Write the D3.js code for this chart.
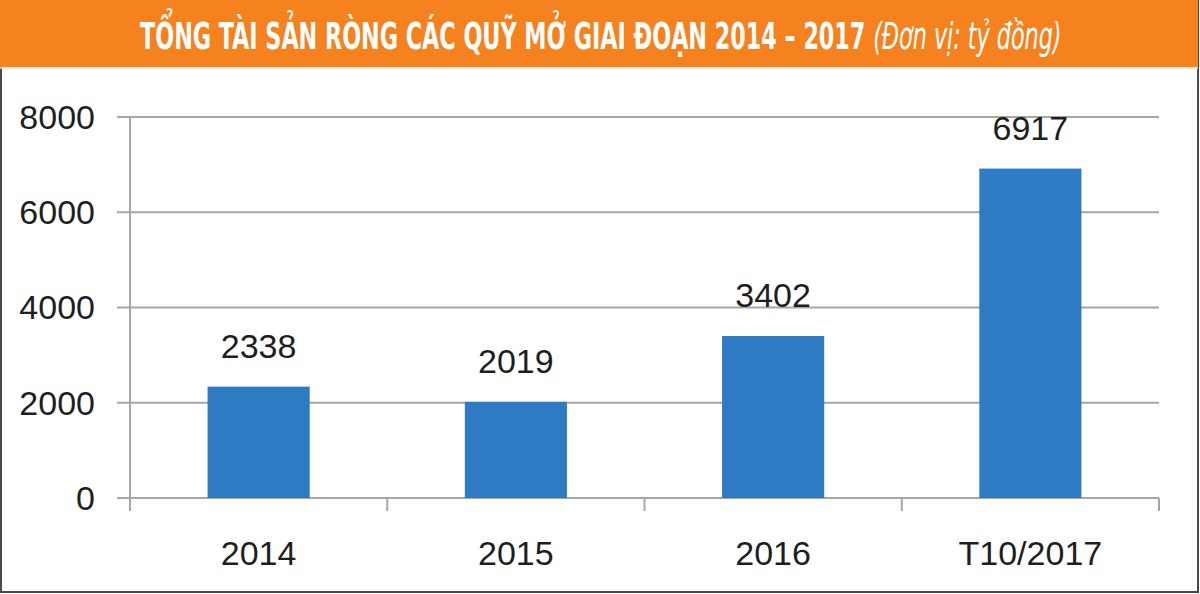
<!DOCTYPE html>
<html><head><meta charset="utf-8">
<script src="https://cdn.jsdelivr.net/npm/d3@7"></script>
<style>html,body{margin:0;padding:0;background:#fff;}svg{display:block;}</style>
</head><body>
<svg id="c" width="1200" height="594"></svg>
<script>
const categories = ["2014", "2015", "2016", "T10/2017"];
const values = [2338, 2019, 3402, 6917];
const yTicks = [0, 2000, 4000, 6000, 8000];
const titleMain = "TỔNG TÀI SẢN RÒNG CÁC QUỸ MỞ GIAI ĐOẠN 2014 – 2017 ";
const titleUnit = "(Đơn vị: tỷ đồng)";

const svg = d3.select("#c");
const W = 1200, H = 594;

// frame
svg.append("rect").attr("x", 0).attr("y", 0).attr("width", W).attr("height", H).attr("fill", "#fff");
svg.append("rect").attr("x", 1).attr("y", 1).attr("width", W - 3).attr("height", H - 3)
  .attr("fill", "none").attr("stroke", "#4a4a4a").attr("stroke-width", 2);
// header band
svg.append("rect").attr("x", 0).attr("y", 0).attr("width", W - 2).attr("height", 67).attr("fill", "#f5821f");
svg.append("line").attr("x1", 0).attr("x2", W - 2).attr("y1", 68).attr("y2", 68).attr("stroke", "#fbe3cc").attr("stroke-width", 1.5);

const title = svg.append("text").attr("x", 0).attr("y", 49)
  .attr("font-family", "'Liberation Sans Narrow','DejaVu Sans Condensed','Roboto Condensed',sans-serif")
  .attr("font-size", 37).attr("fill", "#fff");
title.append("tspan").attr("font-weight", "bold").text(titleMain);
title.append("tspan").attr("font-style", "italic").text(titleUnit);
const tw = title.node().getComputedTextLength();
const targetW = 922, x0 = 140;
title.attr("transform", `translate(${x0},0) scale(${targetW / tw},1)`);

// chart scales
const xb = d3.scaleBand().domain(categories).range([130, 1159]);
const y = d3.scaleLinear().domain([0, 8000]).range([498, 117]);
const grid = "#a6a6a6";

// gridlines
svg.append("g").selectAll("line").data(yTicks).join("line")
  .attr("x1", 117).attr("x2", 1159).attr("y1", d => y(d)).attr("y2", d => y(d))
  .attr("stroke", grid).attr("stroke-width", 2);

// y axis line
svg.append("line").attr("x1", 130).attr("x2", 130).attr("y1", y(8000)).attr("y2", 511)
  .attr("stroke", grid).attr("stroke-width", 2);

// x ticks at band boundaries
const boundaryPts = [xb.range()[0]].concat(categories.map(c => xb(c) + xb.bandwidth()));
svg.append("g").selectAll("line").data(boundaryPts).join("line")
  .attr("x1", d => d).attr("x2", d => d).attr("y1", y(0)).attr("y2", 511)
  .attr("stroke", grid).attr("stroke-width", 2);

// bars
const barW = xb.bandwidth() * 0.397;
svg.append("g").selectAll("rect").data(values).join("rect")
  .attr("x", (d, i) => xb(categories[i]) + xb.bandwidth() / 2 - barW / 2)
  .attr("width", barW)
  .attr("y", d => y(d)).attr("height", d => y(0) - y(d))
  .attr("fill", "#2e7bc4");

const font = "'Liberation Sans',Arial,sans-serif";
// value labels
svg.append("g").selectAll("text").data(values).join("text")
  .attr("x", (d, i) => xb(categories[i]) + xb.bandwidth() / 2)
  .attr("y", d => y(d) - 29)
  .attr("text-anchor", "middle").attr("font-family", font).attr("font-size", 34).attr("fill", "#1e1e1e")
  .text(d => d);

// y tick labels
svg.append("g").selectAll("text").data(yTicks).join("text")
  .attr("x", 95).attr("y", d => y(d)).attr("dy", "0.35em")
  .attr("text-anchor", "end").attr("font-family", font).attr("font-size", 34).attr("fill", "#1e1e1e")
  .text(d => d);

// x labels
svg.append("g").selectAll("text").data(categories).join("text")
  .attr("x", d => xb(d) + xb.bandwidth() / 2).attr("y", 565)
  .attr("text-anchor", "middle").attr("font-family", font).attr("font-size", 34).attr("fill", "#1e1e1e")
  .text(d => d);
</script>
</body></html>
